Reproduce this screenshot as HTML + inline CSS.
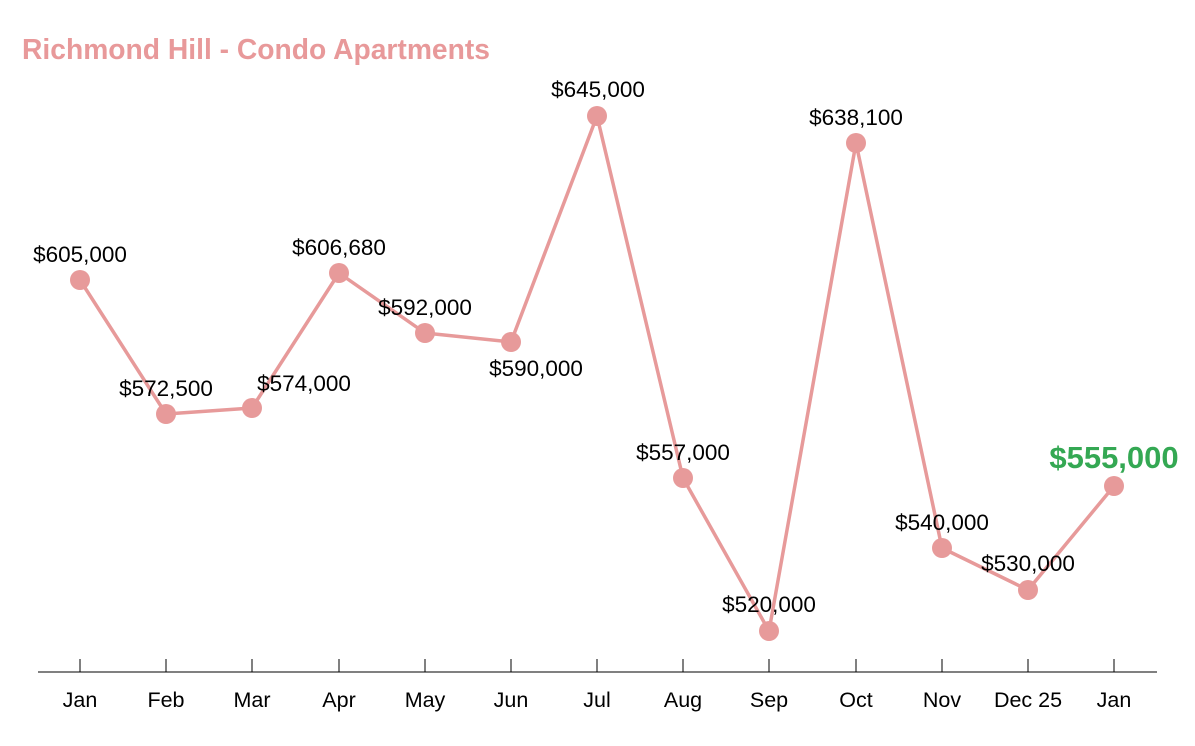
<!DOCTYPE html>
<html><head><meta charset="utf-8"><style>
html,body{margin:0;padding:0;background:#fff;}
svg{display:block;font-family:"Liberation Sans",Arial,sans-serif;}
</style></head><body>
<svg width="1195" height="746" viewBox="0 0 1195 746" xmlns="http://www.w3.org/2000/svg">
<text x="22" y="59" font-size="28.5" font-weight="bold" fill="#e8999a" textLength="468" lengthAdjust="spacingAndGlyphs">Richmond Hill - Condo Apartments</text>
<line x1="38" y1="672" x2="1157" y2="672" stroke="#000" stroke-width="1"/>
<g stroke="#000" stroke-width="1">
<line x1="80" y1="659" x2="80" y2="672"/><line x1="166" y1="659" x2="166" y2="672"/><line x1="252" y1="659" x2="252" y2="672"/><line x1="339" y1="659" x2="339" y2="672"/><line x1="425" y1="659" x2="425" y2="672"/><line x1="511" y1="659" x2="511" y2="672"/><line x1="597" y1="659" x2="597" y2="672"/><line x1="683" y1="659" x2="683" y2="672"/><line x1="769" y1="659" x2="769" y2="672"/><line x1="856" y1="659" x2="856" y2="672"/><line x1="942" y1="659" x2="942" y2="672"/><line x1="1028" y1="659" x2="1028" y2="672"/><line x1="1114" y1="659" x2="1114" y2="672"/>
</g>
<g font-size="21.5" fill="#000" text-anchor="middle">
<text x="80" y="707">Jan</text><text x="166" y="707">Feb</text><text x="252" y="707">Mar</text><text x="339" y="707">Apr</text><text x="425" y="707">May</text><text x="511" y="707">Jun</text><text x="597" y="707">Jul</text><text x="683" y="707">Aug</text><text x="769" y="707">Sep</text><text x="856" y="707">Oct</text><text x="942" y="707">Nov</text><text x="1028" y="707">Dec 25</text><text x="1114" y="707">Jan</text>
</g>
<polyline fill="none" stroke="#e79a9a" stroke-width="3.5" stroke-linejoin="round" points="80,280 166,414 252,408 339,273 425,333 511,342 597,116 683,478 769,631 856,143 942,548 1028,590 1114,486"/>
<g fill="#e79a9a">
<circle cx="80" cy="280" r="10"/><circle cx="166" cy="414" r="10"/><circle cx="252" cy="408" r="10"/><circle cx="339" cy="273" r="10"/><circle cx="425" cy="333" r="10"/><circle cx="511" cy="342" r="10"/><circle cx="597" cy="116" r="10"/><circle cx="683" cy="478" r="10"/><circle cx="769" cy="631" r="10"/><circle cx="856" cy="143" r="10"/><circle cx="942" cy="548" r="10"/><circle cx="1028" cy="590" r="10"/><circle cx="1114" cy="486" r="10"/>
</g>
<g font-size="22.5" fill="#000" text-anchor="middle">
<text x="80" y="262">$605,000</text>
<text x="166" y="396">$572,500</text>
<text x="304" y="391">$574,000</text>
<text x="339" y="255">$606,680</text>
<text x="425" y="315">$592,000</text>
<text x="536" y="376">$590,000</text>
<text x="598" y="97">$645,000</text>
<text x="683" y="460">$557,000</text>
<text x="769" y="612">$520,000</text>
<text x="856" y="125">$638,100</text>
<text x="942" y="530">$540,000</text>
<text x="1028" y="571">$530,000</text>
</g>
<text x="1114" y="468" font-size="31" font-weight="bold" fill="#34a853" text-anchor="middle">$555,000</text>
</svg>
</body></html>
